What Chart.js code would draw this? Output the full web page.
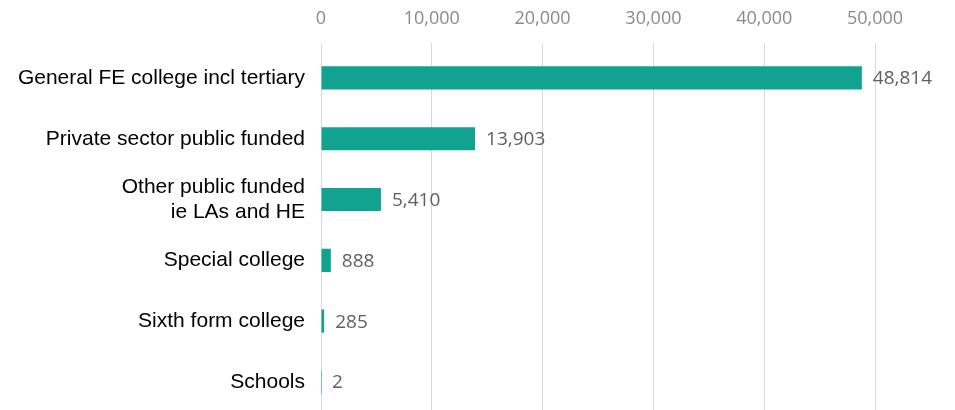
<!DOCTYPE html>
<html>
<head>
<meta charset="utf-8">
<script src="https://cdn.jsdelivr.net/npm/chart.js@4/dist/chart.umd.min.js"></script>
<style>
html,body{margin:0;padding:0;background:#fff;overflow:hidden;}
canvas{display:block;}
</style>
</head>
<body>
<canvas id="c" width="955" height="441"></canvas>
<script>
const categories = [
  "General FE college incl tertiary",
  "Private sector public funded",
  ["Other public funded", "ie LAs and HE"],
  "Special college",
  "Sixth form college",
  "Schools"
];
const learners = [48814, 13903, 5410, 888, 285, 2];
const xTicks = [0, 10000, 20000, 30000, 40000, 50000];

const barColor = '#12a390';

const valueLabels = {
  id: 'valueLabels',
  afterDatasetsDraw(chart) {
    const ctx = chart.ctx;
    const meta = chart.getDatasetMeta(0);
    ctx.save();
    ctx.font = '19px "Open Sans"';
    ctx.fillStyle = '#5f5f5f';
    ctx.textAlign = 'left';
    ctx.textBaseline = 'middle';
    meta.data.forEach((bar, i) => {
      const v = chart.data.datasets[0].data[i];
      ctx.fillText(v.toLocaleString('en-GB'), bar.x + 11, bar.y + 1);
    });
    ctx.restore();
  }
};

new Chart(document.getElementById('c'), {
  type: 'bar',
  data: {
    labels: categories,
    datasets: [{
      data: learners,
      backgroundColor: barColor,
      borderWidth: 0,
      barPercentage: 0.76,
      categoryPercentage: 0.5
    }]
  },
  options: {
    indexAxis: 'y',
    responsive: false,
    maintainAspectRatio: false,
    animation: false,
    layout: { padding: { left: 0, right: 80, top: 0, bottom: 0 } },
    plugins: { legend: { display: false }, tooltip: { enabled: false } },
    scales: {
      x: {
        position: 'top',
        min: 0,
        max: 50000,
        afterBuildTicks(scale) { scale.ticks = xTicks.map(v => ({ value: v })); },
        afterFit(scale) { scale.height = 47.5; },
        grid: { color: '#d9d9d9', lineWidth: 1, drawTicks: true, tickLength: 5 },
        border: { display: false },
        ticks: {
          padding: 13,
          color: '#8a8a8a',
          font: { family: '"Open Sans"', size: 18 },
          callback: v => Number(v).toLocaleString('en-GB')
        }
      },
      y: {
        afterFit(scale) { scale.width = 321; },
        grid: { display: false, drawTicks: false },
        border: { display: false },
        ticks: {
          padding: 16,
          color: '#000',
          font: { family: '"Liberation Sans", Arial', size: 21, lineHeight: 1.2 }
        }
      }
    }
  },
  plugins: [valueLabels]
});
</script>
</body>
</html>
